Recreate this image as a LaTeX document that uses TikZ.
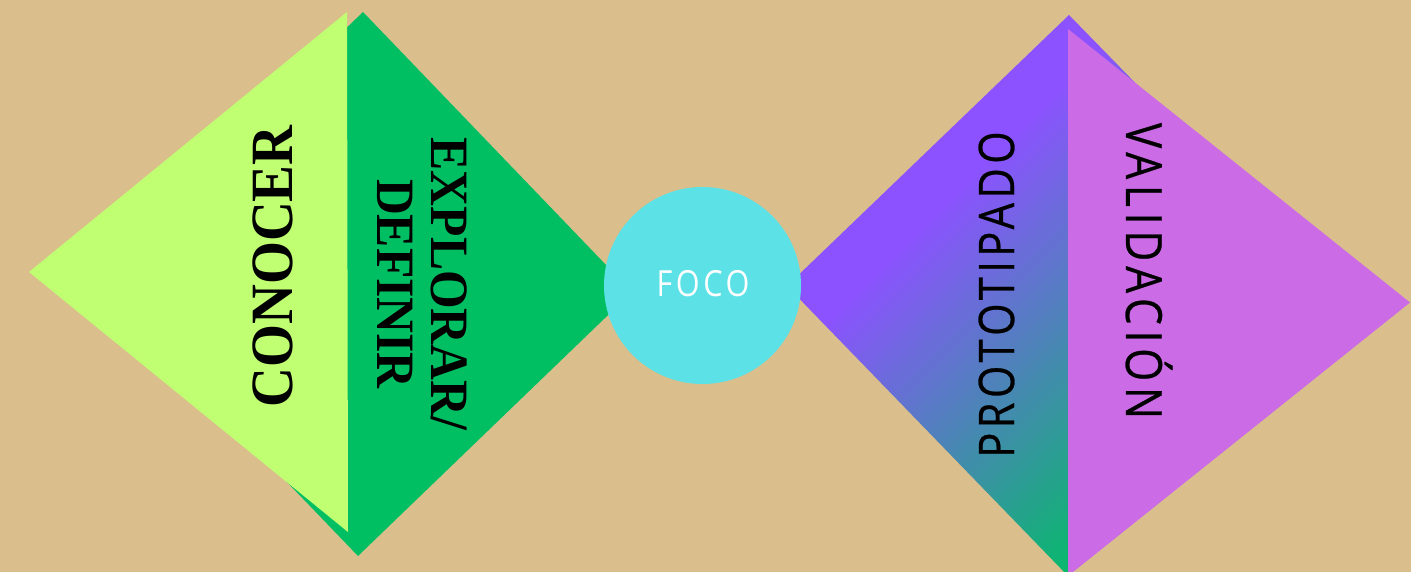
\documentclass[tikz,border=0pt]{standalone}
\usepackage{fontspec}
\newfontfamily\serifb{Liberation Serif}[FakeStretch=0.92]
\newfontfamily\sansp{Open Sans}[FakeStretch=0.85,LetterSpace=9,FakeBold=0.5]
\newfontfamily\sansv{Open Sans}[FakeStretch=0.85,LetterSpace=11.5,FakeBold=0.5]
\newfontfamily\sansf{Open Sans}[FakeStretch=0.85,LetterSpace=10]
\definecolor{bg}{HTML}{DABF8D}
\definecolor{lgreen}{HTML}{C1FF72}
\definecolor{dgreen}{HTML}{00BF63}
\definecolor{cyanc}{HTML}{5CE1E6}
\definecolor{purp}{HTML}{8C52FF}
\definecolor{magc}{HTML}{CB6CE6}
\tikzset{
  serlabel/.style={inner sep=0pt, text=black, font=\serifb\bfseries\fontsize{#1}{#1}\selectfont},
  sanlabel/.style={inner sep=0pt, text=black},
}
\begin{document}
\begin{tikzpicture}[x=1pt,y=-1pt]
\useasboundingbox (0,0) rectangle (1411,572);
\fill[bg] (0,0) rectangle (1411,572);
\begin{scope}
\clip (0,0) rectangle (1411,572);
% left diamond (dark green) and light green triangle
\fill[dgreen] (363,12) -- (632,292) -- (358,556) -- (89,276) -- cycle;
\fill[lgreen] (347,12) -- (29,272) -- (348,532) -- cycle;
% right gradient diamond
\begin{scope}
\clip (1069,15) -- (787,286) -- (1068,576) -- (1350,303) -- cycle;
\begin{scope}[transform canvas={rotate around={45:(1068,339.5)}}]
\fill[purp] (568,-700) rectangle (1568,155.5);
\fill[dgreen] (568,523.5) rectangle (1568,1400);
\shade[top color=purp, bottom color=dgreen] (568,154.5) rectangle (1568,524.5);
\end{scope}
\end{scope}
\fill[magc] (1068,29) -- (1410,302.5) -- (1068,576) -- cycle;
\end{scope}
% circle
\node[circle, fill=cyanc, minimum size=197pt, inner sep=0pt] (foco) at (702.5,285.5) {};
\node[inner sep=0pt, text=white, font=\sansf\fontsize{36}{36}\selectfont, anchor=base] (focot) at (703,296) {FOCO};
% labels
\node[serlabel=60, rotate=90, anchor=base] (conocer) at (292,266.5) {CONOCER};
\node[serlabel=54, rotate=-90, align=center, anchor=center] (explorar) at (422,284) {EXPLORAR/\\DEFINIR};
\node[sanlabel, font=\sansp\fontsize{49}{49}\selectfont, rotate=90, anchor=base] (proto) at (1014,294.5) {PROTOTIPADO};
\node[sanlabel, font=\sansv\fontsize{50}{50}\selectfont, rotate=-90, anchor=base] (valid) at (1126,271) {VALIDACIÓN};
\end{tikzpicture}
\end{document}
